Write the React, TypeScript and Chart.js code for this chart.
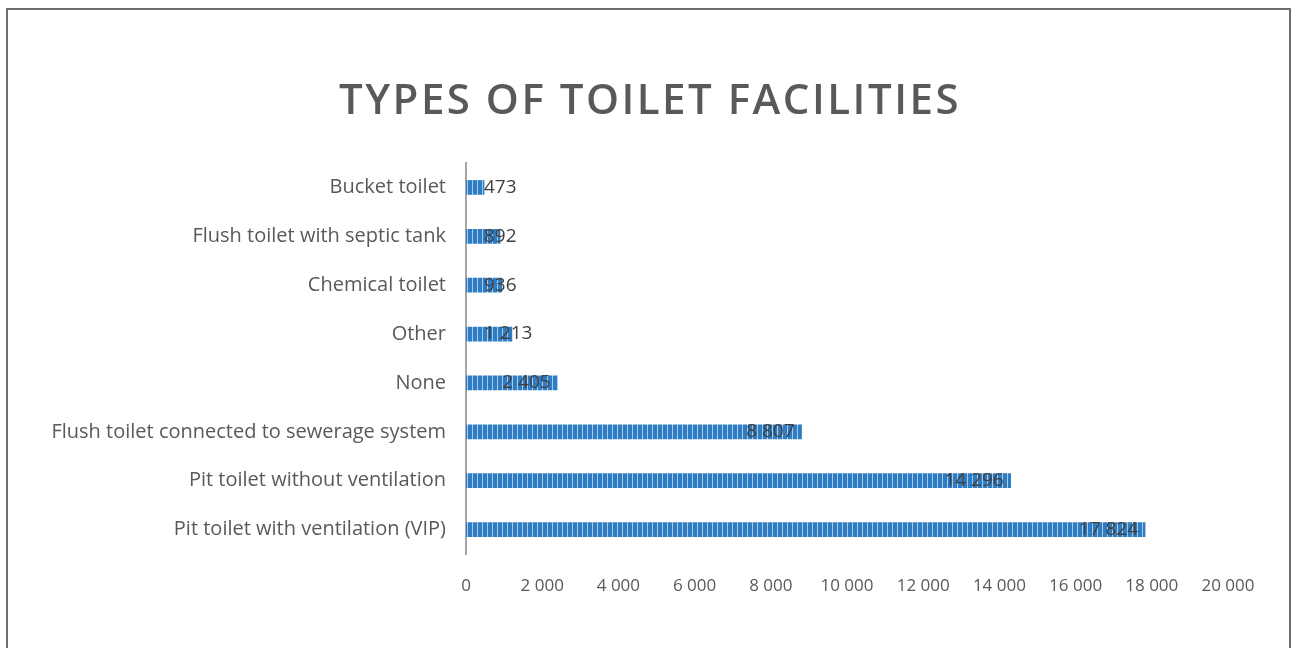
import React, { useEffect, useRef } from "react";
import { Chart, registerables } from "chart.js";

Chart.register(...registerables);

const chartTitle = "TYPES OF TOILET FACILITIES";
const categories = [
  "Bucket toilet",
  "Flush toilet with septic tank",
  "Chemical toilet",
  "Other",
  "None",
  "Flush toilet connected to sewerage system",
  "Pit toilet without ventilation",
  "Pit toilet with ventilation (VIP)",
];
const households = [473, 892, 936, 1213, 2405, 8807, 14296, 17824];
const xMin = 0;
const xMax = 20000;
const xStep = 2000;

const fmt = (v: number) => String(Math.round(v)).replace(/\B(?=(\d{3})+(?!\d))/g, " ");

const FONT = "'Open Sans', 'Noto Sans', sans-serif";

function makePattern(): CanvasPattern | string {
  const c = document.createElement("canvas");
  c.width = 5;
  c.height = 2;
  const g = c.getContext("2d");
  if (!g) return "#2E7DC4";
  g.fillStyle = "#2E7DC4";
  g.fillRect(0, 0, 5, 2);
  g.fillStyle = "#A9CBEA";
  g.fillRect(4, 0, 1, 2);
  const p = g.createPattern(c, "repeat");
  return p || "#2E7DC4";
}

const titlePlugin = {
  id: "customTitle",
  afterDraw(chart: any) {
    const ctx = chart.ctx as CanvasRenderingContext2D;
    ctx.save();
    ctx.font = `600 42px ${FONT}`;
    (ctx as any).letterSpacing = "2.5px";
    ctx.fillStyle = "#595959";
    ctx.textAlign = "center";
    ctx.textBaseline = "middle";
    ctx.fillText(chartTitle, 642, 92);
    ctx.restore();
  },
};

const labelPlugin = {
  id: "barLabels",
  afterDatasetsDraw(chart: any) {
    const ctx = chart.ctx as CanvasRenderingContext2D;
    const meta = chart.getDatasetMeta(0);
    ctx.save();
    ctx.font = `400 19px ${FONT}`;
    ctx.fillStyle = "#404040";
    ctx.textAlign = "left";
    ctx.textBaseline = "middle";
    meta.data.forEach((bar: any, i: number) => {
      const text = fmt(households[i]);
      const w = ctx.measureText(text).width;
      const x = Math.max(bar.x - 7 - w, bar.base + 18);
      ctx.fillText(text, x, bar.y);
    });
    ctx.restore();
  },
};

export default function App() {
  const ref = useRef<HTMLCanvasElement | null>(null);

  useEffect(() => {
    if (!ref.current) return;
    const chart = new Chart(ref.current, {
      type: "bar",
      data: {
        labels: categories,
        datasets: [
          {
            data: households,
            backgroundColor: makePattern() as any,
            borderWidth: 0,
            barThickness: 14,
          },
        ],
      },
      options: {
        indexAxis: "y",
        animation: false,
        responsive: false,
        maintainAspectRatio: false,
        layout: { padding: { left: 0, right: 61, top: 153, bottom: 44 } },
        plugins: {
          legend: { display: false },
          title: { display: false },
          tooltip: { enabled: false },
        },
        scales: {
          x: {
            min: xMin,
            max: xMax,
            grid: { display: false, drawTicks: false },
            border: { display: false },
            afterFit(scale: any) {
              scale.height = 50;
            },
            ticks: {
              stepSize: xStep,
              padding: 22,
              color: "#595959",
              font: { family: FONT, size: 17 },
              maxRotation: 0,
              autoSkip: false,
              callback: (v: any) => fmt(Number(v)),
            },
          },
          y: {
            grid: { display: false, drawTicks: false },
            border: { display: true, color: "#a6a6a6", width: 2 },
            afterFit(scale: any) {
              scale.width = 458;
            },
            ticks: {
              padding: 20,
              color: "#595959",
              font: { family: FONT, size: 20 },
              autoSkip: false,
            },
          },
        },
      },
      plugins: [titlePlugin, labelPlugin],
    });
    return () => chart.destroy();
  }, []);

  return (
    <div
      style={{
        position: "fixed",
        left: 6,
        top: 8,
        width: 1285,
        height: 640,
        boxSizing: "border-box",
        borderTop: "2px solid #6e6e6e",
        borderLeft: "2px solid #6e6e6e",
        borderRight: "2px solid #6e6e6e",
        background: "#fff",
        overflow: "hidden",
      }}
    >
      <canvas ref={ref} width={1281} height={638} style={{ display: "block" }} />
    </div>
  );
}
